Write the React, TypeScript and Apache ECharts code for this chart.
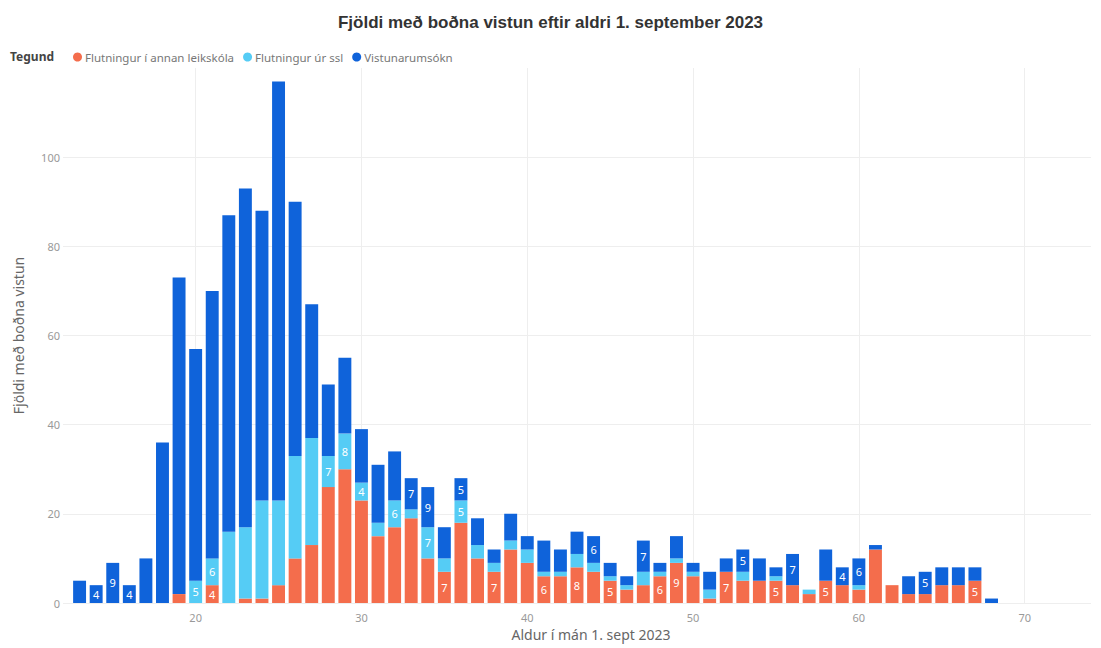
import React, { useEffect, useRef } from "react";
import * as echarts from "echarts";

// x-axis categories (age in months), axis runs from 12 to 74
const xCategories = ["12", "13", "14", "15", "16", "17", "18", "19", "20", "21", "22", "23", "24", "25", "26", "27", "28", "29", "30", "31", "32", "33", "34", "35", "36", "37", "38", "39", "40", "41", "42", "43", "44", "45", "46", "47", "48", "49", "50", "51", "52", "53", "54", "55", "56", "57", "58", "59", "60", "61", "62", "63", "64", "65", "66", "67", "68", "69", "70", "71", "72", "73", "74"];

const ages = [13, 14, 15, 16, 17, 18, 19, 20, 21, 22, 23, 24, 25, 26, 27, 28, 29, 30, 31, 32, 33, 34, 35, 36, 37, 38, 39, 40, 41, 42, 43, 44, 45, 46, 47, 48, 49, 50, 51, 52, 53, 54, 55, 56, 57, 58, 59, 60, 61, 62, 63, 64, 65, 66, 67, 68];

const annanLeikskola = [0, 0, 0, 0, 0, 0, 2, 0, 4, 0, 1, 1, 4, 10, 13, 26, 30, 23, 15, 17, 19, 10, 7, 18, 10, 7, 12, 9, 6, 6, 8, 7, 5, 3, 4, 6, 9, 6, 1, 7, 5, 5, 5, 4, 2, 5, 4, 3, 12, 4, 2, 2, 4, 4, 5, 0];
const urSsl = [0, 0, 0, 0, 0, 0, 0, 5, 6, 16, 16, 22, 19, 23, 24, 7, 8, 4, 3, 6, 2, 7, 3, 5, 3, 2, 2, 3, 1, 1, 3, 2, 1, 1, 3, 1, 1, 1, 2, 0, 2, 0, 1, 0, 1, 0, 0, 1, 0, 0, 0, 0, 0, 0, 0, 0];
const vistunarumsokn = [5, 4, 9, 4, 10, 36, 71, 52, 60, 71, 76, 65, 94, 57, 30, 16, 17, 12, 13, 11, 7, 9, 7, 5, 6, 3, 6, 3, 7, 5, 5, 6, 3, 2, 7, 2, 5, 2, 4, 3, 5, 5, 2, 7, 0, 7, 4, 6, 1, 0, 4, 5, 4, 4, 3, 1];

// ages whose segment shows a data label
const labelsAnnan = [21, 35, 38, 41, 43, 45, 48, 49, 52, 55, 58, 67];
const labelsSsl = [20, 21, 28, 29, 30, 32, 34, 36];
const labelsVistun = [14, 15, 16, 33, 34, 36, 44, 47, 53, 56, 59, 60, 64];

const seriesNames = ["Flutningur í annan leikskóla", "Flutningur úr ssl", "Vistunarumsókn"];
const colors = ["#F46D4C", "#55CCF5", "#0F63DA"];

const xTickLabels = ["20", "30", "40", "50", "60", "70"];
const yTickLabels = [0, 20, 40, 60, 80, 100];

const FONT = '"Segoe UI", "Noto Sans", sans-serif';

function buildData(values: number[], labelAges: number[]) {
  return ages.map((a, i) => ({
    value: [String(a), values[i]],
    label: { show: labelAges.includes(a) && values[i] > 0 },
  }));
}

export default function App() {
  const ref = useRef<HTMLDivElement>(null);
  useEffect(() => {
    if (!ref.current) return;
    const chart = echarts.init(ref.current, undefined, { renderer: "svg" });
    const valueSets = [annanLeikskola, urSsl, vistunarumsokn];
    const labelSets = [labelsAnnan, labelsSsl, labelsVistun];
    const showTick = (_i: number, v: string) => xTickLabels.includes(v);
    chart.setOption({
      animation: false,
      backgroundColor: "#ffffff",
      title: {
        text: "Fjöldi með boðna vistun eftir aldri 1. september 2023",
        left: "center",
        top: 9,
        textStyle: { fontFamily: '"Liberation Sans", Arial, sans-serif', fontSize: 17, fontWeight: "bold", color: "#333" },
      },
      legend: {
        left: 68,
        top: 46,
        icon: "circle",
        itemWidth: 9,
        itemHeight: 9,
        itemGap: 9,
        textStyle: { fontFamily: FONT, fontSize: 11.5, color: "#777", padding: [0, 0, 0, -2] },
        data: seriesNames,
      },
      graphic: [
        {
          type: "text",
          left: 10,
          top: 50,
          style: { text: "Tegund", font: `bold 12px ${FONT}`, fill: "#444" },
        },
      ],
      grid: { left: 63, right: 10, top: 68, bottom: 45 },
      xAxis: {
        type: "category",
        data: xCategories,
        boundaryGap: false,
        name: "Aldur í mán 1. sept 2023",
        nameLocation: "middle",
        nameGap: 23,
        nameTextStyle: { fontFamily: FONT, fontSize: 14, color: "#666", padding: [0, 0, 0, 28] },
        axisLine: { show: false },
        axisTick: { show: false },
        axisLabel: {
          margin: 9,
          fontFamily: FONT,
          fontSize: 11,
          color: "#999",
          interval: showTick,
        },
        splitLine: {
          show: true,
          interval: showTick,
          lineStyle: { color: "#eeeeee", width: 1 },
        },
      },
      yAxis: {
        type: "value",
        min: 0,
        max: 120,
        interval: 20,
        name: "Fjöldi með boðna vistun",
        nameLocation: "middle",
        nameGap: 38,
        nameTextStyle: { fontFamily: FONT, fontSize: 14, color: "#666" },
        axisLine: { show: false },
        axisTick: { show: false },
        axisLabel: {
          margin: 3,
          fontFamily: FONT,
          fontSize: 11,
          color: "#999",
          formatter: (v: number) => (yTickLabels.includes(v) ? String(v) : ""),
        },
        splitLine: { show: true, showMaxLine: false, lineStyle: { color: "#eeeeee", width: 1 } },
      },
      series: seriesNames.map((name, k) => ({
        name,
        type: "bar",
        stack: "total",
        barWidth: "78%",
        itemStyle: { color: colors[k] },
        label: {
          position: "inside",
          color: "#ffffff",
          fontFamily: FONT,
          fontSize: 11,
          formatter: (p: any) => String(p.value[1]),
        },
        data: buildData(valueSets[k], labelSets[k]),
      })),
    });
    return () => chart.dispose();
  }, []);
  return (
    <div
      ref={ref}
      style={{ position: "fixed", left: 0, top: 0, width: 1101, height: 648 }}
    />
  );
}
